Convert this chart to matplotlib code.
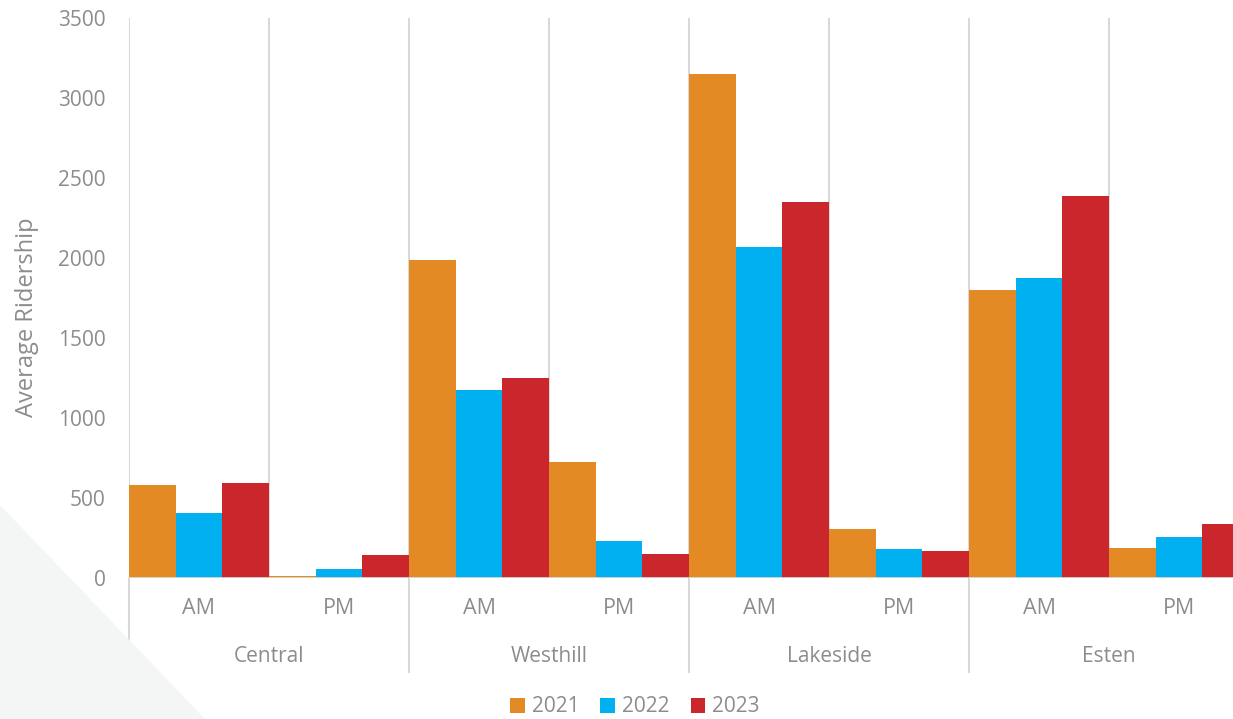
import matplotlib
matplotlib.use("Agg")
import matplotlib.pyplot as plt
from matplotlib.patches import Patch, Polygon
import numpy as np

# Average ridership by station, peak period and year
stations = ["Central", "Westhill", "Lakeside", "Esten"]
periods = ["AM", "PM"]
years = ["2021", "2022", "2023"]
ridership_2021 = [580, 15, 1990, 722, 3150, 304, 1798, 185]
ridership_2022 = [405, 54, 1178, 231, 2069, 181, 1877, 254]
ridership_2023 = [594, 144, 1247, 150, 2350, 169, 2389, 337]

colors = ["#E48A25", "#00B0F0", "#CC262D"]
grey_text = "#8C8C8C"
grey_line = "#D9D9D9"

plt.rcParams["font.family"] = ["Open Sans", "DejaVu Sans"]

W, H = 1233, 719
fig = plt.figure(figsize=(W / 100, H / 100), dpi=100)

# faint decorative wedge in the lower-left corner
fig.patches.append(Polygon([(0, 0), (0, (H - 505) / H), (205 / W, 0)],
                           closed=True, transform=fig.transFigure,
                           facecolor="#F4F5F5", edgecolor="none", zorder=0))

x0, x1, y0, y1 = 129, 1249, 578, 18
ax = fig.add_axes([x0 / W, (H - y0) / H, (x1 - x0) / W, (y0 - y1) / H])
ax.patch.set_alpha(0)

slots = np.arange(len(stations) * len(periods))
bw = 1 / 3
for i, (vals, c) in enumerate(zip([ridership_2021, ridership_2022, ridership_2023], colors)):
    ax.bar(slots + (i - 1) * bw, vals, width=bw, color=c, zorder=3)

ax.set_xlim(-0.5, len(slots) - 0.5)
ax.set_ylim(0, 3500)
ax.set_yticks(np.arange(0, 3501, 500))
ax.tick_params(axis="y", length=0, pad=17, labelsize=15, labelcolor=grey_text)
ax.set_xticks([])
for s in ax.spines.values():
    s.set_visible(False)

# vertical separators between every slot, plus baseline
for b in np.arange(-0.5, len(slots), 1.0):
    ax.axvline(b, color=grey_line, lw=1.5, zorder=1)
ax.axhline(0, color=grey_line, lw=2, zorder=4)

# separators below the axis between stations
depth = -(672 - y0) / (y0 - y1)
for b in np.arange(-0.5, len(slots) + 0.5, len(periods)):
    ax.plot([b, b], [0, depth], color=grey_line, lw=1.5,
            transform=ax.get_xaxis_transform(), clip_on=False)

# two-level category labels
trans = ax.get_xaxis_transform()
for k, xs in enumerate(slots):
    ax.text(xs, -30 / (y0 - y1), periods[k % len(periods)], ha="center", va="center",
            fontsize=15.5, color=grey_text, transform=trans)
for j, name in enumerate(stations):
    ax.text(j * len(periods) + 0.5, -79 / (y0 - y1), name, ha="center", va="center",
            fontsize=15, color=grey_text, transform=trans)

fig.text(27 / W, 1 - 317 / H, "Average Ridership", rotation=90, ha="center", va="center",
         fontsize=17, color=grey_text)

handles = [Patch(facecolor=c, edgecolor="none") for c in colors]
fig.legend(handles, years, loc="center", bbox_to_anchor=(635 / W, 1 - 707 / H), ncol=3,
           frameon=False, fontsize=15, labelcolor=grey_text, handlelength=0.7,
           handleheight=0.7, handletextpad=0.35, columnspacing=1.0)

fig.savefig("out.png", dpi=100)
